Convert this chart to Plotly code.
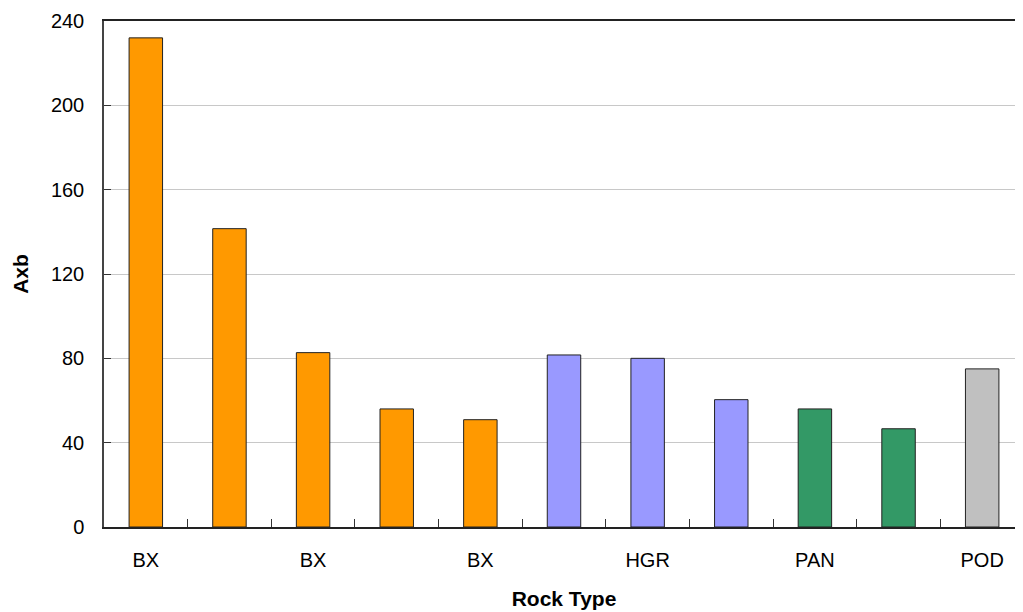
import plotly.graph_objects as go

rock_types = ["BX", "BX", "BX", "BX", "BX", "HGR", "HGR", "HGR", "PAN", "PAN", "POD"]
axb_values = [232, 141.5, 82.7, 56, 50.9, 81.6, 80, 60.4, 56, 46.6, 75]
bar_colors = ["#FF9900"] * 5 + ["#9999FF"] * 3 + ["#339966"] * 2 + ["#C0C0C0"]
y_ticks = [0, 40, 80, 120, 160, 200, 240]

positions = list(range(len(rock_types)))
shown_ticks = positions[::2]
shown_text = [rock_types[i] for i in shown_ticks]

fig = go.Figure(go.Bar(
    x=positions, y=axb_values,
    marker=dict(color=bar_colors, line=dict(color="#222222", width=1)),
    width=0.4,
))

font = "Liberation Sans, Arial, sans-serif"
fig.update_layout(
    width=1023, height=612,
    margin=dict(l=96, r=7, t=13, b=93),
    plot_bgcolor="white", paper_bgcolor="white",
    showlegend=False,
    font=dict(family=font, color="black", size=20),
)
fig.update_xaxes(
    range=[-0.5, len(rock_types) - 0.5],
    tickmode="array", tickvals=shown_ticks, ticktext=shown_text,
    ticks="", ticklabelstandoff=14, automargin=False,
    minor=dict(tickvals=[p + 0.5 for p in positions[:-1]], ticks="inside",
               ticklen=8, tickcolor="#333333", tickwidth=1),
    showline=True, linecolor="#222222", linewidth=1.5, mirror=True,
    showgrid=False, zeroline=False,
    title=dict(text="<b>Rock Type</b>", font=dict(size=21), standoff=22),
)
fig.update_yaxes(
    range=[0, 240], tickmode="array", tickvals=y_ticks,
    ticks="inside", ticklen=7, tickcolor="#333333",
    ticklabelstandoff=14, automargin=False,
    showline=True, linecolor="#444444", linewidth=1.5,
    showgrid=True, gridcolor="#C8C8C8", gridwidth=1, zeroline=False,
    title=dict(text="<b>Axb</b>", font=dict(size=21), standoff=17),
)
fig.write_html("out.html")
